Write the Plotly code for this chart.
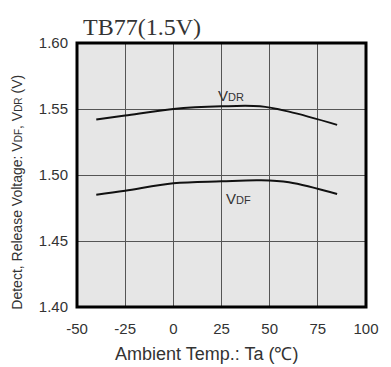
import plotly.graph_objects as go

temps = [-40, -25, 0, 25, 45, 60, 85]
vdr = [1.542, 1.545, 1.550, 1.552, 1.552, 1.548, 1.538]
vdf = [1.485, 1.488, 1.4937, 1.4952, 1.496, 1.4945, 1.4856]
x_ticks = [-50, -25, 0, 25, 50, 75, 100]
y_ticks = [1.40, 1.45, 1.50, 1.55, 1.60]

fig = go.Figure()
fig.add_trace(go.Scatter(x=temps, y=vdr, mode="lines", line=dict(color="#111", width=2, shape="spline"), showlegend=False))
fig.add_trace(go.Scatter(x=temps, y=vdf, mode="lines", line=dict(color="#111", width=2, shape="spline"), showlegend=False))

font = "Liberation Sans, Arial, sans-serif"
fig.update_layout(
    width=391, height=367,
    margin=dict(l=77, r=17, t=43, b=60),
    paper_bgcolor="white", plot_bgcolor="#e6e6e6",
    font=dict(family=font, size=15, color="#333"),
    xaxis=dict(range=[-50, 100], tickvals=x_ticks, ticktext=[str(v) for v in x_ticks],
               showgrid=True, gridcolor="#555", gridwidth=1, zeroline=False,
               ticks="outside", ticklen=8, tickcolor="rgba(0,0,0,0)"),
    yaxis=dict(range=[1.40, 1.60], tickvals=y_ticks, ticktext=["%.2f" % v for v in y_ticks],
               showgrid=True, gridcolor="#555", gridwidth=1, zeroline=False,
               ticks="outside", ticklen=5, tickcolor="rgba(0,0,0,0)"),
    shapes=[dict(type="rect", xref="paper", yref="paper", x0=0, y0=0, x1=1, y1=1,
                 line=dict(color="black", width=3))],
    annotations=[
        dict(text="TB77(1.5V)", xref="paper", yref="paper", x=0.015, y=1.0, yshift=1,
             xanchor="left", yanchor="bottom", showarrow=False,
             font=dict(family="Liberation Serif, Times New Roman, serif", size=24, color="#333")),
        dict(text="V<span style='font-size:11px'>DR</span>", x=30, y=1.5605, showarrow=False,
             font=dict(size=15, color="#333")),
        dict(text="V<span style='font-size:11px'>DF</span>", x=34, y=1.482, showarrow=False,
             font=dict(size=15, color="#333")),
        dict(text="Ambient Temp.: Ta (℃)", xref="paper", yref="paper",
             x=(210 - 77) / 297, y=-(354 - 307) / 264, xanchor="center", yanchor="middle",
             showarrow=False, font=dict(size=18, color="#333")),
        dict(text="Detect, Release Voltage: V<span style='font-size:10px'>DF</span>, V<span style='font-size:10px'>DR</span> (V)",
             xref="paper", yref="paper", textangle=-90,
             x=-(77 - 15) / 297, y=(307 - 192) / 264, xanchor="center", yanchor="middle",
             showarrow=False, font=dict(size=14, color="#333")),
    ],
)
fig.write_html("out.html")
